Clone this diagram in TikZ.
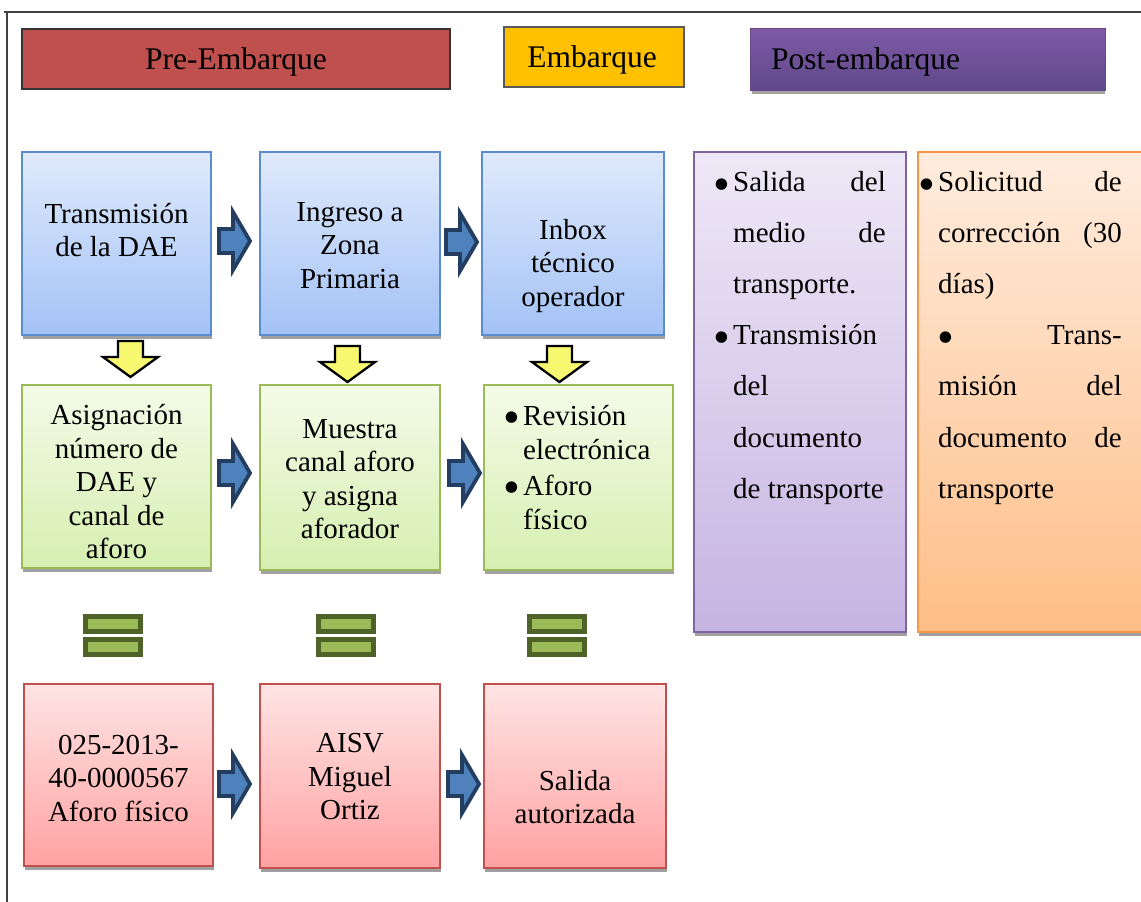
\documentclass[tikz,border=0pt]{standalone}
\usepackage{fontspec}
\setmainfont{Liberation Serif}
\usetikzlibrary{fit}
\definecolor{bluetop}{RGB}{224,234,252}
\definecolor{bluebot}{RGB}{163,194,245}
\definecolor{bluebd}{RGB}{91,140,205}
\definecolor{greentop}{RGB}{244,251,232}
\definecolor{greenbot}{RGB}{214,239,176}
\definecolor{greenbd}{RGB}{155,187,89}
\definecolor{redtop}{RGB}{255,228,228}
\definecolor{redbot}{RGB}{255,162,162}
\definecolor{redbd}{RGB}{192,80,77}
\definecolor{purptop}{RGB}{238,232,246}
\definecolor{purpbot}{RGB}{198,180,226}
\definecolor{purpbd}{RGB}{128,100,162}
\definecolor{orgtop}{RGB}{255,236,222}
\definecolor{orgbot}{RGB}{255,190,135}
\definecolor{orgbd}{RGB}{247,150,70}
\definecolor{prefill}{RGB}{192,80,77}
\definecolor{embfill}{RGB}{255,192,0}
\definecolor{posttop}{RGB}{126,90,166}
\definecolor{postbot}{RGB}{95,73,138}
\definecolor{arrfill}{RGB}{79,129,189}
\definecolor{arrbd}{RGB}{36,62,98}
\definecolor{yelfill}{RGB}{248,248,112}
\definecolor{eqbd}{RGB}{79,98,40}
\definecolor{eqfill}{RGB}{155,187,89}
\definecolor{shadowc}{RGB}{160,160,160}
\definecolor{framec}{RGB}{64,64,64}
\begin{document}
\begin{tikzpicture}[x=1pt,y=-1pt,
  card/.style={inner sep=0pt, line width=1.3pt,
    preaction={fill=shadowc, transform canvas={xshift=1pt,yshift=-4pt}}},
  bluebox/.style={card, draw=bluebd, top color=bluetop, bottom color=bluebot},
  greenbox/.style={card, draw=greenbd, top color=greentop, bottom color=greenbot},
  redbox/.style={card, draw=redbd, top color=redtop, bottom color=redbot},
  purpbox/.style={card, draw=purpbd, top color=purptop, bottom color=purpbot},
  orgbox/.style={card, draw=orgbd, top color=orgtop, bottom color=orgbot},
  txt/.style={align=center, font=\fontsize{29}{33.5}\selectfont, inner sep=0pt},
  ln/.style={font=\fontsize{29}{33.5}\selectfont, inner sep=0pt},
  bul/.style={font=\fontsize{48}{48}\selectfont, inner sep=0pt, anchor=center},
  hdr/.style={font=\fontsize{31.5}{36}\selectfont, inner sep=0pt},
  rarr/.style={draw=arrbd, fill=arrfill, line width=3.8pt, line join=miter},
  darr/.style={draw=black, fill=yelfill, line width=2.3pt, line join=miter},
  eqbar/.style={draw=eqbd, fill=eqfill, line width=5pt},
  frame/.style={draw=framec, line width=1.5pt}
]
\useasboundingbox (0,0) rectangle (1141,902);
% frame
\draw[frame] (4,12) -- (1141,12);
\draw[frame] (7,12) -- (7,902);

% header
\node[draw=black!80, line width=1.3pt, fill=prefill, inner sep=0pt, fit={(22,29) (450,89)}] (h1) {};
\node[hdr] (h1t) at (236,62) {Pre-Embarque};
\node[draw=black!65, line width=1.3pt, fill=embfill, inner sep=0pt, fit={(504,27) (684,87)}] (h2) {};
\node[hdr] (h2t) at (592,60) {Embarque};
\fill[shadowc] (752,88) rectangle (1105,94);
\node[top color=posttop, bottom color=postbot, draw=posttop!80!black, line width=0.8pt, inner sep=0pt, fit={(750,28) (1105,90)}] (h3) {};
\node[hdr, anchor=west] (h3t) at (771,62) {Post-embarque};

% row 1
\node[bluebox, fit={(22,152) (211,335)}] (b1) {};
\node[bluebox, fit={(260,152) (440,335)}] (b2) {};
\node[bluebox, fit={(482,152) (664,335)}] (b3) {};
\node[txt] (b1t) at (116.5,230) {Transmisión\\de la DAE};
\node[txt] (b2t) at (350,245.5) {Ingreso a\\Zona\\Primaria};
\node[txt] (b3t) at (573,266) {Inbox\\técnico\\operador};

% row 2
\node[greenbox, fit={(22,385) (211,568)}] (g1) {};
\node[greenbox, fit={(260,385) (440,570)}] (g2) {};
\node[greenbox, fit={(484,385) (673,570)}] (g3) {};
\node[txt] (g1t) at (116.5,482) {Asignación\\número de\\DAE y\\canal de\\aforo};
\node[txt] (g2t) at (350,479) {Muestra\\canal aforo\\y asigna\\aforador};
\node[bul] (g3b1) at (512,423) {•};
\node[ln, anchor=base west] (g3l1) at (523,425) {Revisión};
\node[ln, anchor=base west] (g3l2) at (523,459) {electrónica};
\node[bul] (g3b2) at (512,493) {•};
\node[ln, anchor=base west] (g3l3) at (523,495) {Aforo};
\node[ln, anchor=base west] (g3l4) at (523,529) {físico};

% row 3
\node[redbox, fit={(24,684) (213,866)}] (r1) {};
\node[redbox, fit={(260,684) (440,868)}] (r2) {};
\node[redbox, fit={(484,684) (666,868)}] (r3) {};
\node[txt] (r1t) at (118.5,778) {025-2013-\\40-0000567\\Aforo físico};
\node[txt] (r2t) at (350,777) {AISV\\Miguel\\Ortiz};
\node[txt] (r3t) at (575,797) {Salida\\autorizada};

% right columns
\node[purpbox, fit={(694,152) (906,632)}] (p1) {};
\node[orgbox, fit={(918,152) (1150,632)}] (o1) {};
\node[bul] (pb1) at (722,190) {•};
\node[ln, anchor=base west] at (733,191) {Salida};
\node[ln, anchor=base east] at (886,191) {del};
\node[ln, anchor=base west] at (733,242) {medio};
\node[ln, anchor=base east] at (886,242) {de};
\node[ln, anchor=base west] at (733,293) {transporte.};
\node[bul] (pb2) at (722,343) {•};
\node[ln, anchor=base west] at (733,344) {Transmisión};
\node[ln, anchor=base west] at (733,395.5) {del};
\node[ln, anchor=base west] at (733,447) {documento};
\node[ln, anchor=base west] at (733,498) {de transporte};

\node[bul] (ob1) at (927,190) {•};
\node[ln, anchor=base west] at (938,191) {Solicitud};
\node[ln, anchor=base east] at (1122,191) {de};
\node[ln, anchor=base west] at (938,242) {corrección};
\node[ln, anchor=base east] at (1122,242) {(30};
\node[ln, anchor=base west] at (938,293) {días)};
\node[bul] (ob2) at (946,343) {•};
\node[ln, anchor=base east] at (1122,344) {Trans-};
\node[ln, anchor=base west] at (938,395.5) {misión};
\node[ln, anchor=base east] at (1122,395.5) {del};
\node[ln, anchor=base west] at (938,447) {documento};
\node[ln, anchor=base east] at (1122,447) {de};
\node[ln, anchor=base west] at (938,498) {transporte};

% right block arrows
\foreach \ax/\ay in {217/241, 444/242, 217/473, 447/473, 217/784, 446/784}{
  \draw[rarr, shift={(\ax,\ay)}] (2,-12) -- (16,-12) -- (16,-29) -- (33,0) -- (16,29) -- (16,12) -- (2,12) -- cycle;
}
% down arrows
\foreach \dx/\dy in {130.5/340, 347.5/345, 559.5/345}{
  \draw[darr, shift={(\dx,\dy)}] (-12.5,1) -- (12.5,1) -- (12.5,17) -- (27.5,17) -- (0,37) -- (-27.5,17) -- (-12.5,17) -- cycle;
}
% equal signs
\foreach \ex in {83, 316, 527}{
  \draw[eqbar, shift={(\ex,614)}] (2.5,2.5) rectangle (57.5,17.5);
  \draw[eqbar, shift={(\ex,614)}] (2.5,25.5) rectangle (57.5,40.5);
}
\end{tikzpicture}
\end{document}
